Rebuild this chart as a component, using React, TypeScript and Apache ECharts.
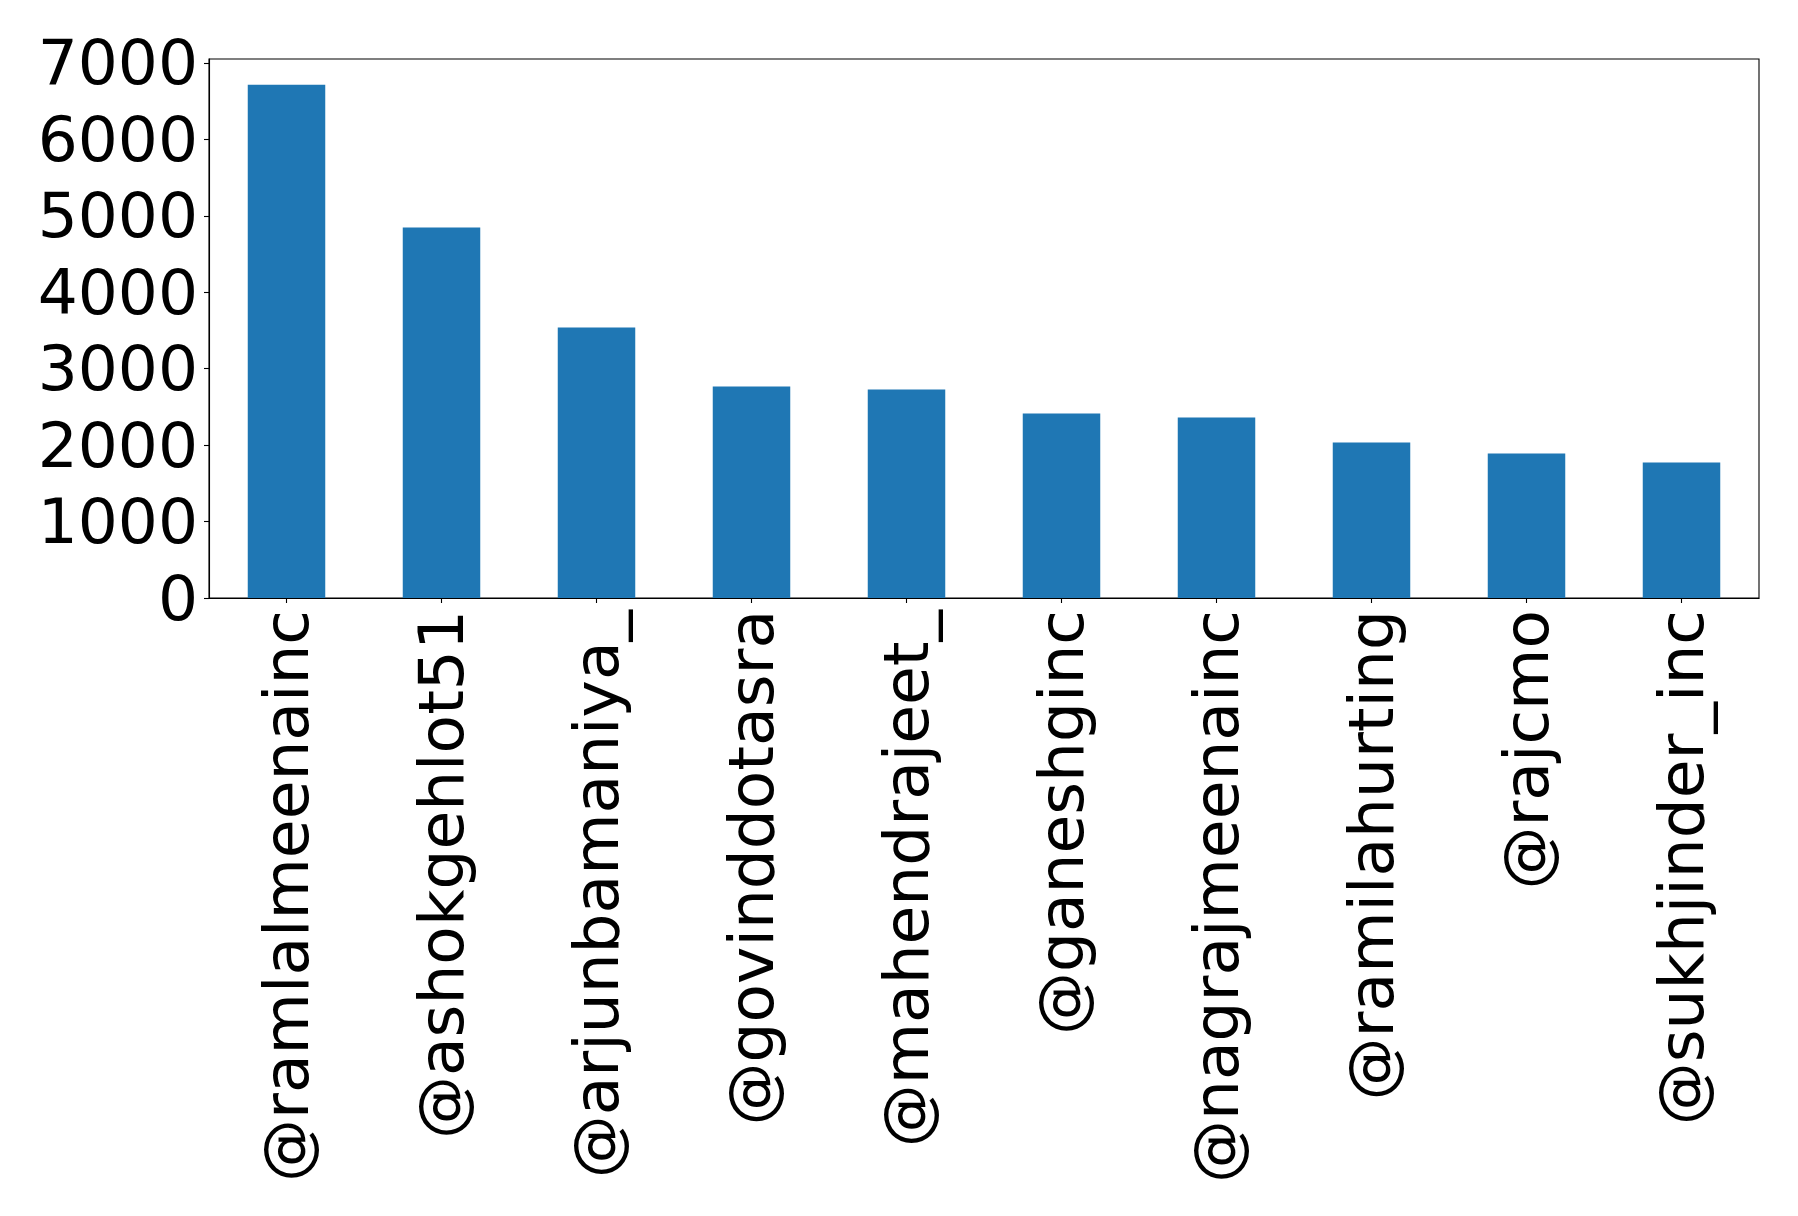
import React, { useEffect, useRef } from "react";
import * as echarts from "echarts";

// Accounts ranked by mention count
const handles = [
  "@ramlalmeenainc",
  "@ashokgehlot51",
  "@arjunbamaniya_",
  "@govinddotasra",
  "@mahendrajeet_",
  "@ganeshginc",
  "@nagrajmeenainc",
  "@ramilahurting",
  "@rajcmo",
  "@sukhjinder_inc",
];
const counts = [6715, 4845, 3540, 2767, 2727, 2413, 2361, 2033, 1889, 1771];
const yTicks = [0, 1000, 2000, 3000, 4000, 5000, 6000, 7000];

const FONT = "DejaVu Sans";

export default function App() {
  const ref = useRef<HTMLDivElement>(null);

  useEffect(() => {
    document.body.style.margin = "0";
    if (!ref.current) return;
    const chart = echarts.init(ref.current, null, { renderer: "svg" });
    const yMax = Math.max(...counts) * 1.05;
    chart.setOption({
      animation: false,
      backgroundColor: "#ffffff",
      grid: {
        left: 209,
        right: 39,
        top: 59,
        bottom: 618,
        show: true,
        borderColor: "#000000",
        borderWidth: 1.1,
        backgroundColor: "transparent",
      },
      xAxis: {
        type: "category",
        data: handles,
        axisLine: { show: true, lineStyle: { color: "#000000", width: 1.1 } },
        axisTick: {
          show: true,
          alignWithLabel: true,
          length: 5,
          lineStyle: { color: "#000000", width: 1.1 },
        },
        axisLabel: {
          rotate: 90,
          interval: 0,
          margin: 12,
          color: "#000000",
          fontFamily: FONT,
          fontSize: 63,
        },
        splitLine: { show: false },
      },
      yAxis: {
        type: "value",
        min: 0,
        max: yMax,
        interval: 1000,
        axisLine: { show: true, lineStyle: { color: "#000000", width: 1.1 } },
        axisTick: {
          show: true,
          length: 5,
          customValues: yTicks,
          lineStyle: { color: "#000000", width: 1.1 },
        },
        axisLabel: {
          customValues: yTicks,
          formatter: (v: number) => String(v),
          margin: 11,
          color: "#000000",
          fontFamily: FONT,
          fontSize: 63,
        },
        splitLine: { show: false },
      },
      series: [
        {
          type: "bar",
          data: counts,
          barWidth: "50%",
          itemStyle: { color: "#1f77b4" },
        },
      ],
    });
    return () => chart.dispose();
  }, []);

  return <div ref={ref} style={{ width: 1798, height: 1216 }} />;
}
